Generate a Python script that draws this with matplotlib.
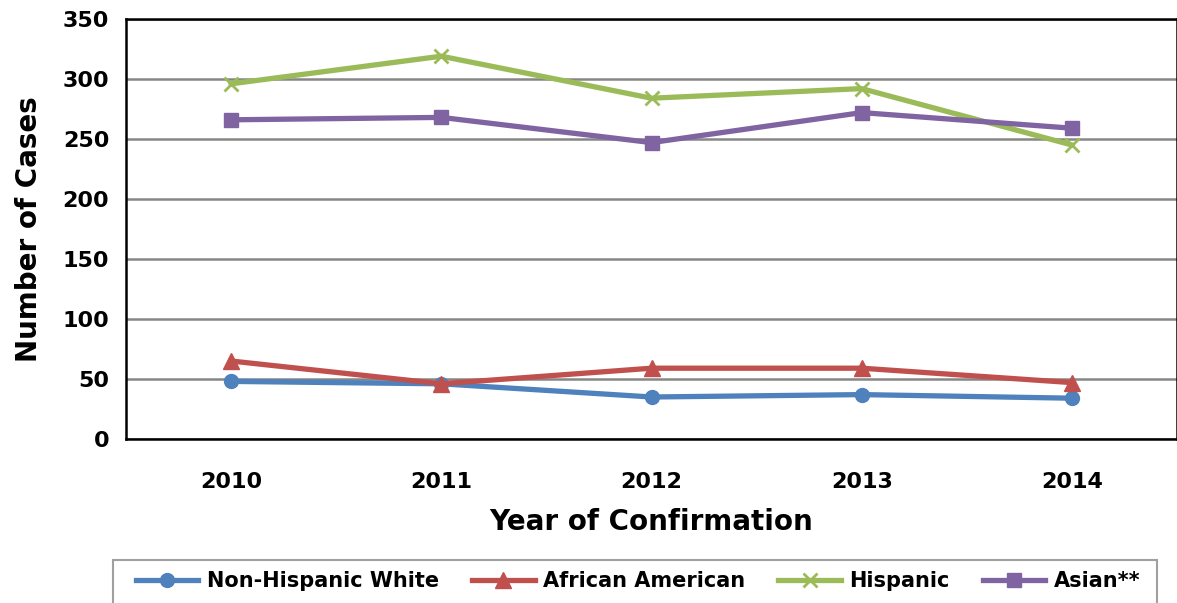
import matplotlib.pyplot as plt
from matplotlib.patches import Rectangle

years = ['2010', '2011', '2012', '2013', '2014']
white = [48, 46, 35, 37, 34]
african_american = [65, 46, 59, 59, 47]
hispanic = [296, 319, 284, 292, 245]
asian = [266, 268, 247, 272, 259]

fig = plt.figure(figsize=(11.77, 6.03), dpi=100)
ax = fig.add_axes([126 / 1177, 164 / 603, 1051 / 1177, 420 / 603])

x = range(len(years))
ax.plot(x, white, color='#4F81BD', lw=3.8, marker='o', ms=10, label='Non-Hispanic White')
ax.plot(x, african_american, color='#C0504D', lw=3.8, marker='^', ms=11, label='African American')
ax.plot(x, hispanic, color='#9BBB59', lw=3.8, marker='x', ms=10, mew=2, label='Hispanic')
ax.plot(x, asian, color='#8064A2', lw=3.8, marker='s', ms=10, label='Asian**')

ax.set_xlim(-0.5, 4.5)
ax.set_ylim(0, 350)
ax.set_yticks(range(0, 351, 50))
ax.set_xticks(list(x))
ax.set_xticklabels(years)
ax.yaxis.grid(True, color='#868686', lw=1.8)
ax.set_axisbelow(True)
ax.tick_params(length=0, labelsize=16)
ax.tick_params(axis='x', pad=24)
ax.tick_params(axis='y', pad=12)
for lab in ax.get_xticklabels() + ax.get_yticklabels():
    lab.set_fontweight('bold')
for s in ax.spines.values():
    s.set_linewidth(1.8)

ax.set_xlabel('Year of Confirmation', fontsize=20, fontweight='bold', labelpad=11)
ax.set_ylabel('Number of Cases', fontsize=20, fontweight='bold', labelpad=14)

# legend box runs off the bottom of the figure
fig.patches.append(Rectangle((113 / 1177, -0.05), 1044 / 1177, 0.05 + 43 / 603,
                             transform=fig.transFigure, fill=False,
                             edgecolor='#A0A0A0', lw=1.5))
fig.legend(loc='center', bbox_to_anchor=(638 / 1177, 22 / 603),
           ncol=4, frameon=False, borderaxespad=0,
           prop={'weight': 'bold', 'size': 15}, handlelength=3.0,
           handletextpad=0.4, columnspacing=1.6)

fig.savefig('out.png', dpi=100)
